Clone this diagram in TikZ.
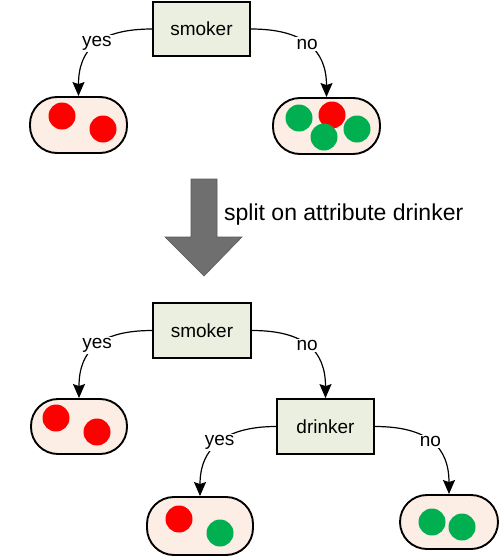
\documentclass[tikz,border=0pt]{standalone}
\usepackage{fontspec}
\setmainfont{Liberation Sans}
\usetikzlibrary{arrows.meta}
\definecolor{boxfill}{HTML}{EAEFDF}
\definecolor{leaffill}{HTML}{FCEEE5}
\definecolor{ballred}{HTML}{FF0000}
\definecolor{ballgreen}{HTML}{00B050}
\definecolor{bigarrow}{HTML}{6F6F6F}
\tikzset{
  testbox/.style={draw=black, line width=1.8pt, fill=boxfill, minimum width=97pt, minimum height=54pt, inner sep=0pt, font=\fontsize{19}{22}\selectfont},
  leaf/.style={draw=black, line width=1.9pt, fill=leaffill, rounded corners=27pt, inner sep=0pt},
  conn/.style={line width=1.2pt, -{Stealth[length=14pt,width=12pt,inset=2pt]}},
  lbl/.style={fill=white, inner sep=1.5pt, font=\fontsize{19}{22}\selectfont},
  redball/.style={fill=ballred},
  greenball/.style={fill=ballgreen}
}
\begin{document}
\begin{tikzpicture}[x=1pt,y=-1pt]
\useasboundingbox (0,0) rectangle (500,560);
% ---- top tree ----
\node[testbox] (s1) at (201.5,29) {smoker};
\node[leaf, minimum width=97pt, minimum height=56pt] (l1) at (78.5,125) {};
\node[leaf, minimum width=107pt, minimum height=56pt] (r1) at (326.5,126) {};
\fill[redball] (62,116) circle (13.5);
\fill[redball] (103,129) circle (13.5);
\fill[redball] (332,115) circle (13.5);
\fill[greenball] (299,118) circle (13.5);
\fill[greenball] (324,137) circle (13.5);
\fill[greenball] (357,129) circle (13.5);
\draw[conn] (s1.west) .. controls +(-53,0) and +(0,-47) .. node[lbl, pos=0.48] {yes} (l1.north);
\draw[conn] (s1.east) .. controls +(53,0) and +(0,-47) .. node[lbl, pos=0.48] {no} (r1.north);
% ---- big arrow ----
\draw[fill=bigarrow, draw=black!65, line width=0.6pt] (191,179) -- (217,179) -- (217,237) -- (242,237) -- (204,276) -- (165,237) -- (191,237) -- cycle;
\node[anchor=west, inner sep=0pt, font=\fontsize{23}{26}\selectfont] (split) at (224,215) {split on attribute drinker};
% ---- bottom tree ----
\node[testbox, minimum width=98pt, minimum height=55pt] (s2) at (202,330.5) {smoker};
\node[leaf, minimum width=96pt, minimum height=55pt] (l2) at (79,426.5) {};
\node[testbox, minimum width=97pt, minimum height=55pt] (d2) at (325.5,426.5) {drinker};
\node[leaf, minimum width=106pt, minimum height=58pt] (l3) at (200,526) {};
\node[leaf, minimum width=98pt, minimum height=54pt] (l4) at (449,522) {};
\fill[redball] (56,418) circle (13.5);
\fill[redball] (97,432) circle (13.5);
\fill[redball] (179,519) circle (13.5);
\fill[greenball] (220,533) circle (13.5);
\fill[greenball] (432,522) circle (13.5);
\fill[greenball] (462,527) circle (13.5);
\draw[conn] (s2.west) .. controls +(-53,0) and +(0,-47) .. node[lbl, pos=0.48] {yes} (l2.north);
\draw[conn] (s2.east) .. controls +(53,0) and +(0,-47) .. node[lbl, pos=0.48] {no} (d2.north);
\draw[conn] (d2.west) .. controls +(-53,0) and +(0,-47) .. node[lbl, pos=0.48] {yes} (l3.north);
\draw[conn] (d2.east) .. controls +(53,0) and +(0,-47) .. node[lbl, pos=0.48] {no} (l4.north);
\end{tikzpicture}
\end{document}
